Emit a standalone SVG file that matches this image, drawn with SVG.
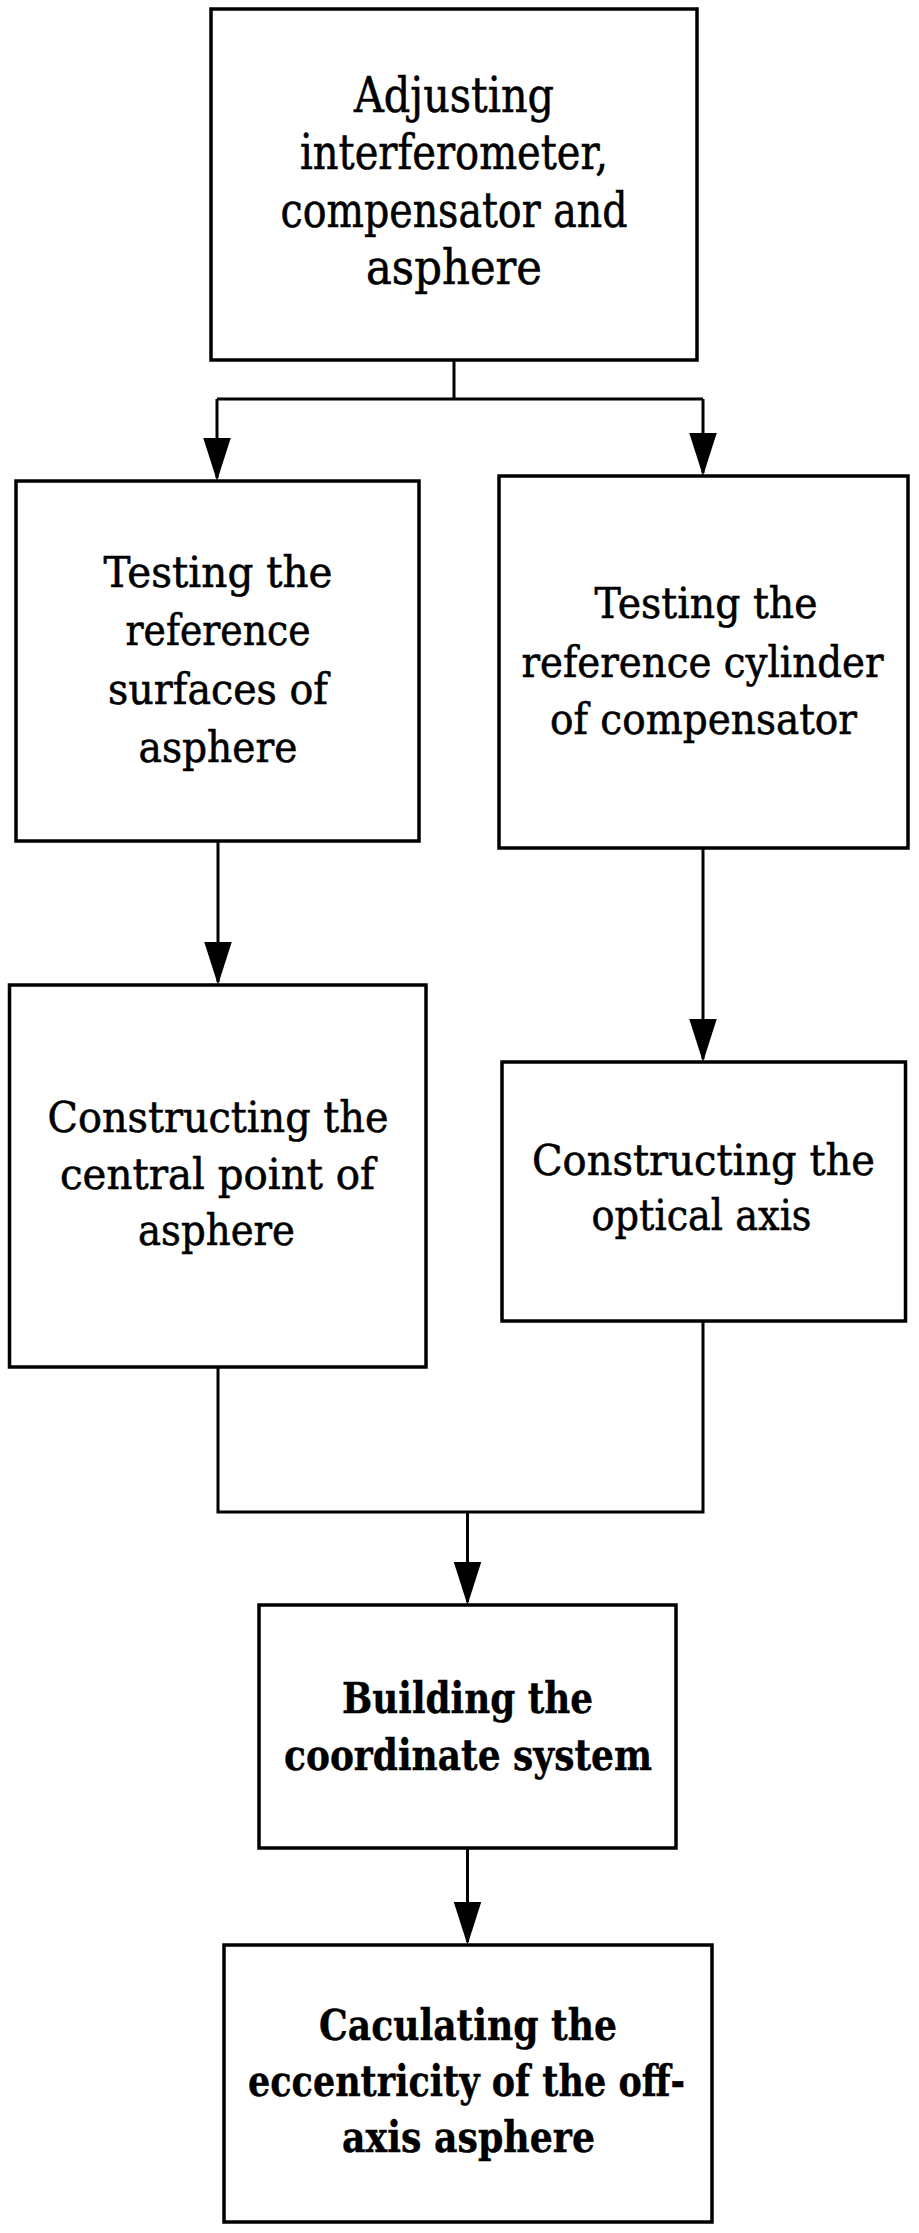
<svg xmlns="http://www.w3.org/2000/svg" width="919" height="2233" viewBox="0 0 919 2233">
<style>
.box{fill:#fff;stroke:#000;stroke-width:3.5}
.con{fill:none;stroke:#000;stroke-width:3}
text{font-family:"DejaVu Serif","Liberation Serif",serif;fill:#000;text-anchor:middle}
.t1{font-size:48px;stroke:#000;stroke-width:0.6}
.t2{font-size:43px;stroke:#000;stroke-width:0.6}
.tb{font-size:42px;font-weight:bold;stroke:#000;stroke-width:0.4}
</style>
<defs>
<marker id="ah" markerUnits="userSpaceOnUse" markerWidth="44" markerHeight="28" refX="40" refY="13.75" orient="auto">
<path d="M0,0 L43,13.75 L0,27.5 Z" fill="#000"/>
</marker>
</defs>
<rect width="919" height="2233" fill="#fff"/>
<g id="connectors">
<path class="con" d="M454,360 V399"/>
<path class="con" d="M217,399 H703"/>
<path class="con" d="M217,399 V478" marker-end="url(#ah)"/>
<path class="con" d="M703,399 V473" marker-end="url(#ah)"/>
<path class="con" d="M218,841 V982" marker-end="url(#ah)"/>
<path class="con" d="M703,848 V1059" marker-end="url(#ah)"/>
<path class="con" d="M218,1367 V1512 H703 V1321"/>
<path class="con" d="M467.5,1512 V1602" marker-end="url(#ah)"/>
<path class="con" d="M467.5,1848 V1942" marker-end="url(#ah)"/>
</g>
<g id="n1">
<rect class="box" x="211" y="9" width="486" height="351"/>
<text class="t1" x="454" y="112" textLength="200" lengthAdjust="spacingAndGlyphs">Adjusting</text>
<text class="t1" x="454" y="169" textLength="308" lengthAdjust="spacingAndGlyphs">interferometer,</text>
<text class="t1" x="454" y="227" textLength="347" lengthAdjust="spacingAndGlyphs">compensator and</text>
<text class="t1" x="454" y="284" textLength="176" lengthAdjust="spacingAndGlyphs">asphere</text>
</g>
<g id="n2">
<rect class="box" x="16" y="481" width="403" height="360"/>
<text class="t2" x="218" y="587" textLength="229" lengthAdjust="spacingAndGlyphs">Testing the</text>
<text class="t2" x="218" y="645" textLength="185" lengthAdjust="spacingAndGlyphs">reference</text>
<text class="t2" x="218" y="704" textLength="220" lengthAdjust="spacingAndGlyphs">surfaces of</text>
<text class="t2" x="218" y="762" textLength="159" lengthAdjust="spacingAndGlyphs">asphere</text>
</g>
<g id="n3">
<rect class="box" x="499" y="476" width="409" height="372"/>
<text class="t2" x="706" y="618" textLength="223" lengthAdjust="spacingAndGlyphs">Testing the</text>
<text class="t2" x="702.5" y="677" textLength="362" lengthAdjust="spacingAndGlyphs">reference cylinder</text>
<text class="t2" x="703.5" y="734" textLength="307" lengthAdjust="spacingAndGlyphs">of compensator</text>
</g>
<g id="n4">
<rect class="box" x="9.5" y="985" width="416.5" height="382"/>
<text class="t2" x="218" y="1132" textLength="341" lengthAdjust="spacingAndGlyphs">Constructing the</text>
<text class="t2" x="217.5" y="1189" textLength="315" lengthAdjust="spacingAndGlyphs">central point of</text>
<text class="t2" x="216.5" y="1245" textLength="157" lengthAdjust="spacingAndGlyphs">asphere</text>
</g>
<g id="n5">
<rect class="box" x="502" y="1062" width="403.5" height="259"/>
<text class="t2" x="703.5" y="1175" textLength="343" lengthAdjust="spacingAndGlyphs">Constructing the</text>
<text class="t2" x="701.5" y="1230" textLength="220" lengthAdjust="spacingAndGlyphs">optical axis</text>
</g>
<g id="n6">
<rect class="box" x="259" y="1605" width="417" height="243"/>
<text class="tb" x="467.5" y="1713" textLength="251" lengthAdjust="spacingAndGlyphs">Building the</text>
<text class="tb" x="468" y="1770" textLength="368" lengthAdjust="spacingAndGlyphs">coordinate system</text>
</g>
<g id="n7">
<rect class="box" x="224" y="1945" width="488" height="277"/>
<text class="tb" x="468" y="2040" textLength="298" lengthAdjust="spacingAndGlyphs">Caculating the</text>
<text class="tb" x="466.5" y="2096" textLength="437" lengthAdjust="spacingAndGlyphs">eccentricity of the off-</text>
<text class="tb" x="468.5" y="2152" textLength="253" lengthAdjust="spacingAndGlyphs">axis asphere</text>
</g>
</svg>
